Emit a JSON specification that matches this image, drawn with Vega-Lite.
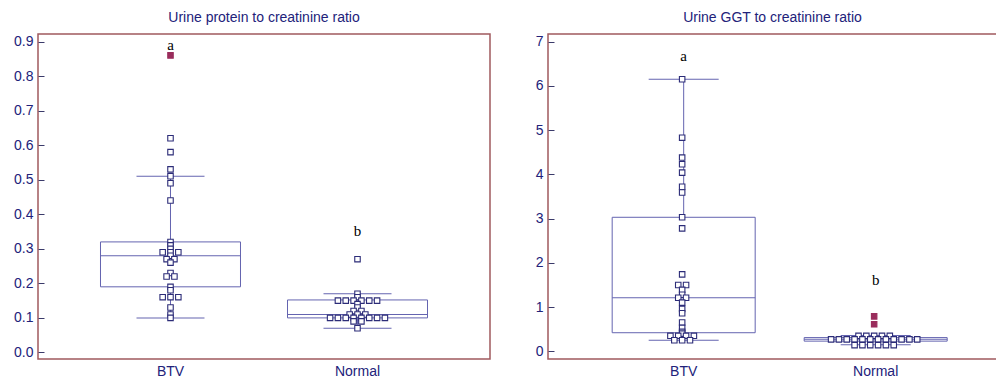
{
  "$schema": "https://vega.github.io/schema/vega-lite/v6.json",
  "autosize": {"type": "pad"},
  "padding": {"left": 12, "top": 10, "right": 0, "bottom": 0},
  "background": "white",
  "spacing": 43,
  "config": {
    "view": {"stroke": "#a05a5e", "strokeWidth": 1.5},
    "title": {"font": "Liberation Sans", "fontSize": 14, "fontWeight": "normal", "color": "#22227a", "offset": 9},
    "axis": {"labelFont": "Liberation Sans", "labelFontSize": 14, "labelColor": "#22227a", "grid": false, "domain": false, "labelOverlap": false},
    "axisY": {"tickCount": 9, "tickSize": -6, "tickColor": "#3a3a6a", "labelPadding": 11},
    "axisX": {"ticks": false, "labelAngle": 0, "labelPadding": 5}
  },
  "datasets": {
    "protein": [
      {"group": "BTV", "value": 0.86}, {"group": "BTV", "value": 0.62}, {"group": "BTV", "value": 0.58}, {"group": "BTV", "value": 0.53},
      {"group": "BTV", "value": 0.51}, {"group": "BTV", "value": 0.49}, {"group": "BTV", "value": 0.44}, {"group": "BTV", "value": 0.32},
      {"group": "BTV", "value": 0.31}, {"group": "BTV", "value": 0.30}, {"group": "BTV", "value": 0.29}, {"group": "BTV", "value": 0.29},
      {"group": "BTV", "value": 0.29}, {"group": "BTV", "value": 0.28}, {"group": "BTV", "value": 0.27}, {"group": "BTV", "value": 0.27},
      {"group": "BTV", "value": 0.26}, {"group": "BTV", "value": 0.23}, {"group": "BTV", "value": 0.22}, {"group": "BTV", "value": 0.22},
      {"group": "BTV", "value": 0.19}, {"group": "BTV", "value": 0.18}, {"group": "BTV", "value": 0.16}, {"group": "BTV", "value": 0.16},
      {"group": "BTV", "value": 0.16}, {"group": "BTV", "value": 0.13}, {"group": "BTV", "value": 0.11}, {"group": "BTV", "value": 0.10},
      {"group": "Normal", "value": 0.27}, {"group": "Normal", "value": 0.17}, {"group": "Normal", "value": 0.16},
      {"group": "Normal", "value": 0.15}, {"group": "Normal", "value": 0.15}, {"group": "Normal", "value": 0.15},
      {"group": "Normal", "value": 0.15}, {"group": "Normal", "value": 0.15}, {"group": "Normal", "value": 0.15},
      {"group": "Normal", "value": 0.14}, {"group": "Normal", "value": 0.13}, {"group": "Normal", "value": 0.12}, {"group": "Normal", "value": 0.12},
      {"group": "Normal", "value": 0.11}, {"group": "Normal", "value": 0.11}, {"group": "Normal", "value": 0.11},
      {"group": "Normal", "value": 0.10}, {"group": "Normal", "value": 0.10}, {"group": "Normal", "value": 0.10}, {"group": "Normal", "value": 0.10},
      {"group": "Normal", "value": 0.10}, {"group": "Normal", "value": 0.10}, {"group": "Normal", "value": 0.10}, {"group": "Normal", "value": 0.10},
      {"group": "Normal", "value": 0.09}, {"group": "Normal", "value": 0.09}, {"group": "Normal", "value": 0.07}
    ],
    "proteinStats": [
      {"group": "BTV", "lo": 0.10, "q1": 0.19, "median": 0.28, "q3": 0.32, "hi": 0.51},
      {"group": "Normal", "lo": 0.07, "q1": 0.10, "median": 0.11, "q3": 0.152, "hi": 0.17}
    ],
    "proteinLetters": [
      {"group": "BTV", "value": 0.89, "letter": "a"},
      {"group": "Normal", "value": 0.352, "letter": "b"}
    ],
    "ggt": [
      {"group": "BTV", "value": 6.15}, {"group": "BTV", "value": 4.83}, {"group": "BTV", "value": 4.38}, {"group": "BTV", "value": 4.23},
      {"group": "BTV", "value": 4.04}, {"group": "BTV", "value": 3.72}, {"group": "BTV", "value": 3.59}, {"group": "BTV", "value": 3.03},
      {"group": "BTV", "value": 2.78}, {"group": "BTV", "value": 1.74}, {"group": "BTV", "value": 1.50}, {"group": "BTV", "value": 1.50},
      {"group": "BTV", "value": 1.39}, {"group": "BTV", "value": 1.28}, {"group": "BTV", "value": 1.21}, {"group": "BTV", "value": 1.21},
      {"group": "BTV", "value": 1.10}, {"group": "BTV", "value": 0.96}, {"group": "BTV", "value": 0.86}, {"group": "BTV", "value": 0.65},
      {"group": "BTV", "value": 0.53}, {"group": "BTV", "value": 0.44}, {"group": "BTV", "value": 0.40},
      {"group": "BTV", "value": 0.35}, {"group": "BTV", "value": 0.35}, {"group": "BTV", "value": 0.35}, {"group": "BTV", "value": 0.35},
      {"group": "BTV", "value": 0.25}, {"group": "BTV", "value": 0.25}, {"group": "BTV", "value": 0.25},
      {"group": "Normal", "value": 0.79}, {"group": "Normal", "value": 0.61},
      {"group": "Normal", "value": 0.35}, {"group": "Normal", "value": 0.35}, {"group": "Normal", "value": 0.35}, {"group": "Normal", "value": 0.35}, {"group": "Normal", "value": 0.35},
      {"group": "Normal", "value": 0.27}, {"group": "Normal", "value": 0.27}, {"group": "Normal", "value": 0.27}, {"group": "Normal", "value": 0.27},
      {"group": "Normal", "value": 0.27}, {"group": "Normal", "value": 0.27}, {"group": "Normal", "value": 0.27}, {"group": "Normal", "value": 0.27},
      {"group": "Normal", "value": 0.27}, {"group": "Normal", "value": 0.27}, {"group": "Normal", "value": 0.27}, {"group": "Normal", "value": 0.27},
      {"group": "Normal", "value": 0.14}, {"group": "Normal", "value": 0.14}, {"group": "Normal", "value": 0.14},
      {"group": "Normal", "value": 0.14}, {"group": "Normal", "value": 0.14}, {"group": "Normal", "value": 0.14}
    ],
    "ggtStats": [
      {"group": "BTV", "lo": 0.25, "q1": 0.42, "median": 1.21, "q3": 3.03, "hi": 6.15},
      {"group": "Normal", "lo": 0.15, "q1": 0.23, "median": 0.27, "q3": 0.31, "hi": 0.36}
    ],
    "ggtLetters": [
      {"group": "BTV", "value": 6.68, "letter": "a"},
      {"group": "Normal", "value": 1.62, "letter": "b"}
    ]
  },
  "hconcat": [
    {
      "title": "Urine protein to creatinine ratio",
      "width": 452,
      "height": 325,
      "layer": [
        {
          "data": {"name": "proteinStats"},
          "mark": {"type": "rect", "filled": false, "stroke": "#6464b0", "strokeWidth": 1, "width": 140},
          "encoding": {
            "x": {"field": "group", "type": "nominal", "title": null,
                  "scale": {"type": "band", "paddingInner": 0.2513, "paddingOuter": 0.3342}},
            "y": {"field": "q1", "type": "quantitative", "title": null,
                  "scale": {"domain": [-0.019, 0.922], "nice": false, "zero": false}},
            "y2": {"field": "q3"}
          }
        },
        {
          "data": {"name": "proteinStats"},
          "mark": {"type": "rule", "stroke": "#6464b0", "strokeWidth": 1},
          "encoding": {
            "x": {"field": "group", "type": "nominal", "title": null},
            "y": {"field": "q3", "type": "quantitative", "title": null},
            "y2": {"field": "hi"}
          }
        },
        {
          "data": {"name": "proteinStats"},
          "mark": {"type": "rule", "stroke": "#6464b0", "strokeWidth": 1},
          "encoding": {
            "x": {"field": "group", "type": "nominal", "title": null},
            "y": {"field": "lo", "type": "quantitative", "title": null},
            "y2": {"field": "q1"}
          }
        },
        {
          "data": {"name": "proteinStats"},
          "transform": [{"fold": ["lo", "hi"], "as": ["stat", "whisker"]}],
          "mark": {"type": "tick", "color": "#6464b0", "size": 68, "thickness": 1, "opacity": 1},
          "encoding": {
            "x": {"field": "group", "type": "nominal", "title": null},
            "y": {"field": "whisker", "type": "quantitative", "title": null}
          }
        },
        {
          "data": {"name": "proteinStats"},
          "mark": {"type": "tick", "color": "#6464b0", "size": 140, "thickness": 1, "opacity": 1},
          "encoding": {
            "x": {"field": "group", "type": "nominal", "title": null},
            "y": {"field": "median", "type": "quantitative", "title": null}
          }
        },
        {
          "data": {"name": "protein"},
          "transform": [
            {"window": [{"op": "row_number", "as": "rank"}, {"op": "count", "as": "n"}], "groupby": ["group", "value"], "frame": [null, null]},
            {"calculate": "datum.rank - (datum.n + 1) / 2", "as": "off"},
            {"lookup": "group", "from": {"data": {"name": "proteinStats"}, "key": "group", "fields": ["q1", "q3"]}},
            {"calculate": "datum.value > datum.q3 + 3 * (datum.q3 - datum.q1) ? 'far out' : 'inside'", "as": "kind"}
          ],
          "mark": {"type": "point", "shape": "square", "filled": true, "size": 30, "strokeWidth": 1.1, "opacity": 1},
          "encoding": {
            "x": {"field": "group", "type": "nominal", "title": null},
            "xOffset": {"field": "off", "type": "quantitative", "scale": {"domain": [-8.75, 8.75]}},
            "y": {"field": "value", "type": "quantitative", "title": null},
            "fill": {"field": "kind", "type": "nominal", "legend": null, "scale": {"domain": ["inside", "far out"], "range": ["white", "#9a2d5c"]}},
            "stroke": {"field": "kind", "type": "nominal", "legend": null, "scale": {"domain": ["inside", "far out"], "range": ["#2c2c78", "#9a2d5c"]}}
          }
        },
        {
          "data": {"name": "proteinLetters"},
          "mark": {"type": "text", "font": "Liberation Serif", "fontSize": 15, "color": "black", "baseline": "middle"},
          "encoding": {
            "x": {"field": "group", "type": "nominal", "title": null},
            "y": {"field": "value", "type": "quantitative", "title": null},
            "text": {"field": "letter"}
          }
        }
      ]
    },
    {
      "title": "Urine GGT to creatinine ratio",
      "width": 449,
      "height": 325,
      "layer": [
        {
          "data": {"name": "ggtStats"},
          "mark": {"type": "rect", "filled": false, "stroke": "#6464b0", "strokeWidth": 1, "width": 143},
          "encoding": {
            "x": {"field": "group", "type": "nominal", "title": null,
                  "scale": {"type": "band", "paddingInner": 0.255, "paddingOuter": 0.2967, "align": 0.563}},
            "y": {"field": "q1", "type": "quantitative", "title": null,
                  "scale": {"domain": [-0.174, 7.174], "nice": false, "zero": false}},
            "y2": {"field": "q3"}
          }
        },
        {
          "data": {"name": "ggtStats"},
          "mark": {"type": "rule", "stroke": "#6464b0", "strokeWidth": 1},
          "encoding": {
            "x": {"field": "group", "type": "nominal", "title": null},
            "y": {"field": "q3", "type": "quantitative", "title": null},
            "y2": {"field": "hi"}
          }
        },
        {
          "data": {"name": "ggtStats"},
          "mark": {"type": "rule", "stroke": "#6464b0", "strokeWidth": 1},
          "encoding": {
            "x": {"field": "group", "type": "nominal", "title": null},
            "y": {"field": "lo", "type": "quantitative", "title": null},
            "y2": {"field": "q1"}
          }
        },
        {
          "data": {"name": "ggtStats"},
          "transform": [{"fold": ["lo", "hi"], "as": ["stat", "whisker"]}],
          "mark": {"type": "tick", "color": "#6464b0", "size": 70, "thickness": 1, "opacity": 1},
          "encoding": {
            "x": {"field": "group", "type": "nominal", "title": null},
            "y": {"field": "whisker", "type": "quantitative", "title": null}
          }
        },
        {
          "data": {"name": "ggtStats"},
          "mark": {"type": "tick", "color": "#6464b0", "size": 143, "thickness": 1, "opacity": 1},
          "encoding": {
            "x": {"field": "group", "type": "nominal", "title": null},
            "y": {"field": "median", "type": "quantitative", "title": null}
          }
        },
        {
          "data": {"name": "ggt"},
          "transform": [
            {"window": [{"op": "row_number", "as": "rank"}, {"op": "count", "as": "n"}], "groupby": ["group", "value"], "frame": [null, null]},
            {"calculate": "datum.rank - (datum.n + 1) / 2", "as": "off"},
            {"lookup": "group", "from": {"data": {"name": "ggtStats"}, "key": "group", "fields": ["q1", "q3"]}},
            {"calculate": "datum.value > datum.q3 + 3 * (datum.q3 - datum.q1) ? 'far out' : 'inside'", "as": "kind"}
          ],
          "mark": {"type": "point", "shape": "square", "filled": true, "size": 30, "strokeWidth": 1.1, "opacity": 1},
          "encoding": {
            "x": {"field": "group", "type": "nominal", "title": null},
            "xOffset": {"field": "off", "type": "quantitative", "scale": {"domain": [-8.94, 8.94]}},
            "y": {"field": "value", "type": "quantitative", "title": null},
            "fill": {"field": "kind", "type": "nominal", "legend": null, "scale": {"domain": ["inside", "far out"], "range": ["white", "#9a2d5c"]}},
            "stroke": {"field": "kind", "type": "nominal", "legend": null, "scale": {"domain": ["inside", "far out"], "range": ["#2c2c78", "#9a2d5c"]}}
          }
        },
        {
          "data": {"name": "ggtLetters"},
          "mark": {"type": "text", "font": "Liberation Serif", "fontSize": 15, "color": "black", "baseline": "middle"},
          "encoding": {
            "x": {"field": "group", "type": "nominal", "title": null},
            "y": {"field": "value", "type": "quantitative", "title": null},
            "text": {"field": "letter"}
          }
        }
      ]
    }
  ]
}
